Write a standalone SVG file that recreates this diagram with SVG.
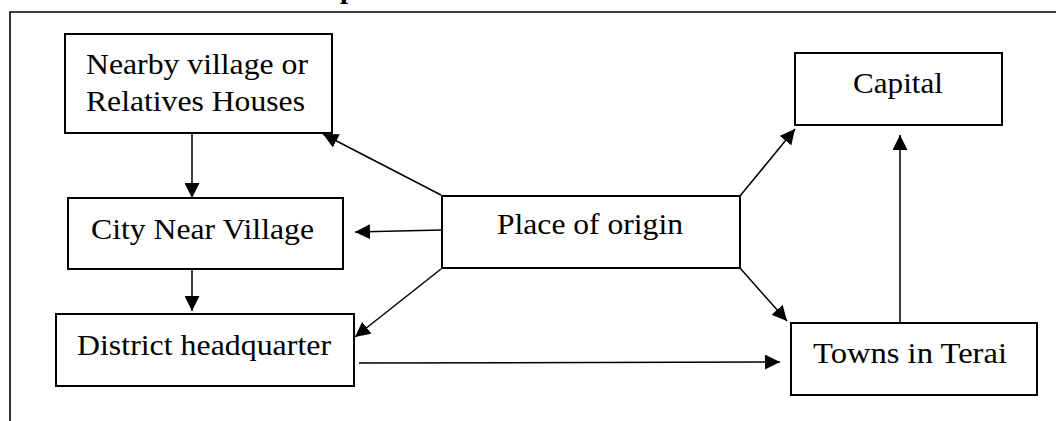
<svg xmlns="http://www.w3.org/2000/svg" width="1056" height="421" viewBox="0 0 1056 421">
<style>
.box{fill:#fff;stroke:#000;stroke-width:2}
.lbl{font-family:"Liberation Serif","Times New Roman",serif;font-size:29px;fill:#000}
.title{font-family:"Liberation Serif","Times New Roman",serif;font-size:29px;font-weight:bold;fill:#000}
.con{fill:none;stroke:#000;stroke-width:1.5}
.frame{fill:none;stroke:#000;stroke-width:1.6}
</style>
<defs>
<marker id="ah" markerUnits="userSpaceOnUse" markerWidth="15" markerHeight="15" refX="15" refY="7.5" orient="auto">
<path d="M0,0 L15,7.5 L0,15 z" fill="#000"/>
</marker>
</defs>
<rect width="1056" height="421" fill="#fff"/>
<text class="title" x="340" y="-2">p</text>
<path class="frame" d="M10,421 L10,12 L1056,12"/>
<g id="connectors">
<line class="con" x1="192" y1="133" x2="192" y2="198" marker-end="url(#ah)"/>
<line class="con" x1="192" y1="269" x2="192" y2="311" marker-end="url(#ah)"/>
<line class="con" x1="442" y1="230" x2="355" y2="232" marker-end="url(#ah)"/>
<line class="con" x1="441" y1="195" x2="323" y2="134" marker-end="url(#ah)"/>
<line class="con" x1="441" y1="269" x2="355" y2="337" marker-end="url(#ah)"/>
<line class="con" x1="359" y1="363" x2="780" y2="362" marker-end="url(#ah)"/>
<line class="con" x1="740" y1="268" x2="787" y2="321" marker-end="url(#ah)"/>
<line class="con" x1="740" y1="196" x2="795" y2="129" marker-end="url(#ah)"/>
<line class="con" x1="900" y1="323" x2="900" y2="135" marker-end="url(#ah)"/>
</g>
<g id="node-nearby">
<rect class="box" x="65" y="34" width="267" height="99"/>
<text class="lbl" x="86" y="74" textLength="222" lengthAdjust="spacingAndGlyphs">Nearby village or</text>
<text class="lbl" x="86" y="111" textLength="219" lengthAdjust="spacingAndGlyphs">Relatives Houses</text>
</g>
<g id="node-city">
<rect class="box" x="68" y="198" width="275" height="71"/>
<text class="lbl" x="91" y="239" textLength="223" lengthAdjust="spacingAndGlyphs">City Near Village</text>
</g>
<g id="node-district">
<rect class="box" x="56" y="314" width="298" height="72"/>
<text class="lbl" x="77" y="355" textLength="254" lengthAdjust="spacingAndGlyphs">District headquarter</text>
</g>
<g id="node-origin">
<rect class="box" x="442" y="196" width="298" height="72"/>
<text class="lbl" x="497" y="234" textLength="186" lengthAdjust="spacingAndGlyphs">Place of origin</text>
</g>
<g id="node-capital">
<rect class="box" x="795" y="53" width="207" height="72"/>
<text class="lbl" x="853" y="93" textLength="90" lengthAdjust="spacingAndGlyphs">Capital</text>
</g>
<g id="node-terai">
<rect class="box" x="791" y="323" width="246" height="72"/>
<text class="lbl" x="813" y="363" textLength="194" lengthAdjust="spacingAndGlyphs">Towns in Terai</text>
</g>
</svg>
